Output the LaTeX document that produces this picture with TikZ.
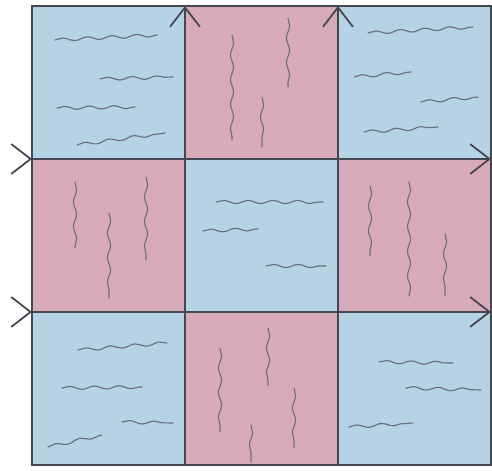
\documentclass[tikz,border=0pt]{standalone}
\usepackage{tikz}
\usetikzlibrary{positioning,arrows.meta,decorations.pathmorphing,calc}
\definecolor{cellblue}{RGB}{182,210,229}
\definecolor{cellpink}{RGB}{215,170,185}
\definecolor{gridgray}{RGB}{68,70,80}
\definecolor{wavegray}{RGB}{105,112,128}
\tikzset{
  cell/.style  = {draw=gridgray, line width=1.1pt, minimum size=3.06cm, inner sep=0pt, outer sep=0pt},
  bcell/.style = {cell, fill=cellblue},
  pcell/.style = {cell, fill=cellpink},
  wave/.style  = {draw=wavegray, line width=0.65pt, line cap=round, decorate, decoration={snake, amplitude=0.9pt, segment length=14pt}},
  chev/.style  = {draw=gridgray, line width=1pt, -{Straight Barb[length=11pt, width=17pt]}},
}

\begin{document}
\begin{tikzpicture}[x=0.02cm, y=-0.02cm]
  \useasboundingbox (0,0) rectangle (492,470);
  % top row
  \node[bcell] (c11) at (108.5,82.5) {};
  \node[pcell, right=0pt of c11] (c12) {};
  \node[bcell, right=0pt of c12] (c13) {};
  % middle row
  \node[pcell, below=0pt of c11] (c21) {};
  \node[bcell, right=0pt of c21] (c22) {};
  \node[pcell, right=0pt of c22] (c23) {};
  % bottom row
  \node[bcell, below=0pt of c21] (c31) {};
  \node[pcell, right=0pt of c31] (c32) {};
  \node[bcell, right=0pt of c32] (c33) {};
  % strokes in the blue squares
  \draw[wave] (55,40) -- (157,35);
  \draw[wave] (100,79) -- (173,77);
  \draw[wave] (57,108) -- (135,107);
  \draw[wave] (77,145) -- (165,133);
  \draw[wave] (368,33) -- (473,27);
  \draw[wave] (354,77) -- (411,72);
  \draw[wave] (421,102) -- (478,97);
  \draw[wave] (364,132) -- (438,127);
  \draw[wave] (216,202) -- (323,202);
  \draw[wave] (203,231) -- (258,229);
  \draw[wave] (266,266) -- (326,266);
  \draw[wave] (78,350) -- (167,343);
  \draw[wave] (62,388) -- (142,387);
  \draw[wave] (122,422) -- (173,423);
  \draw[wave] (48,447) -- (102,435);
  \draw[wave] (379,362) -- (453,363);
  \draw[wave] (406,388) -- (481,390);
  \draw[wave] (349,427) -- (413,423);
  % strokes in the pink squares
  \draw[wave] (232,35) -- (232,140);
  \draw[wave] (262,97) -- (262,147);
  \draw[wave] (288,18) -- (288,87);
  \draw[wave] (75,182) -- (75,248);
  \draw[wave] (109,213) -- (109,298);
  \draw[wave] (146,177) -- (146,260);
  \draw[wave] (370,186) -- (370,256);
  \draw[wave] (409,182) -- (409,296);
  \draw[wave] (445,234) -- (445,296);
  \draw[wave] (220,348) -- (220,432);
  \draw[wave] (268,328) -- (268,385);
  \draw[wave] (294,388) -- (294,448);
  \draw[wave] (251,425) -- (251,462);
  % edge arrows
  \draw[chev] ($(c11.north east)+(0,2)$) -- (c11.north east);
  \draw[chev] ($(c12.north east)+(0,2)$) -- (c12.north east);
  \draw[chev] ($(c21.north west)+(-2,0)$) -- (c21.north west);
  \draw[chev] ($(c31.north west)+(-2,0)$) -- (c31.north west);
  \draw[chev] ($(c23.north east)+(-2,0)$) -- (c23.north east);
  \draw[chev] ($(c33.north east)+(-2,0)$) -- (c33.north east);
\end{tikzpicture}
\end{document}
